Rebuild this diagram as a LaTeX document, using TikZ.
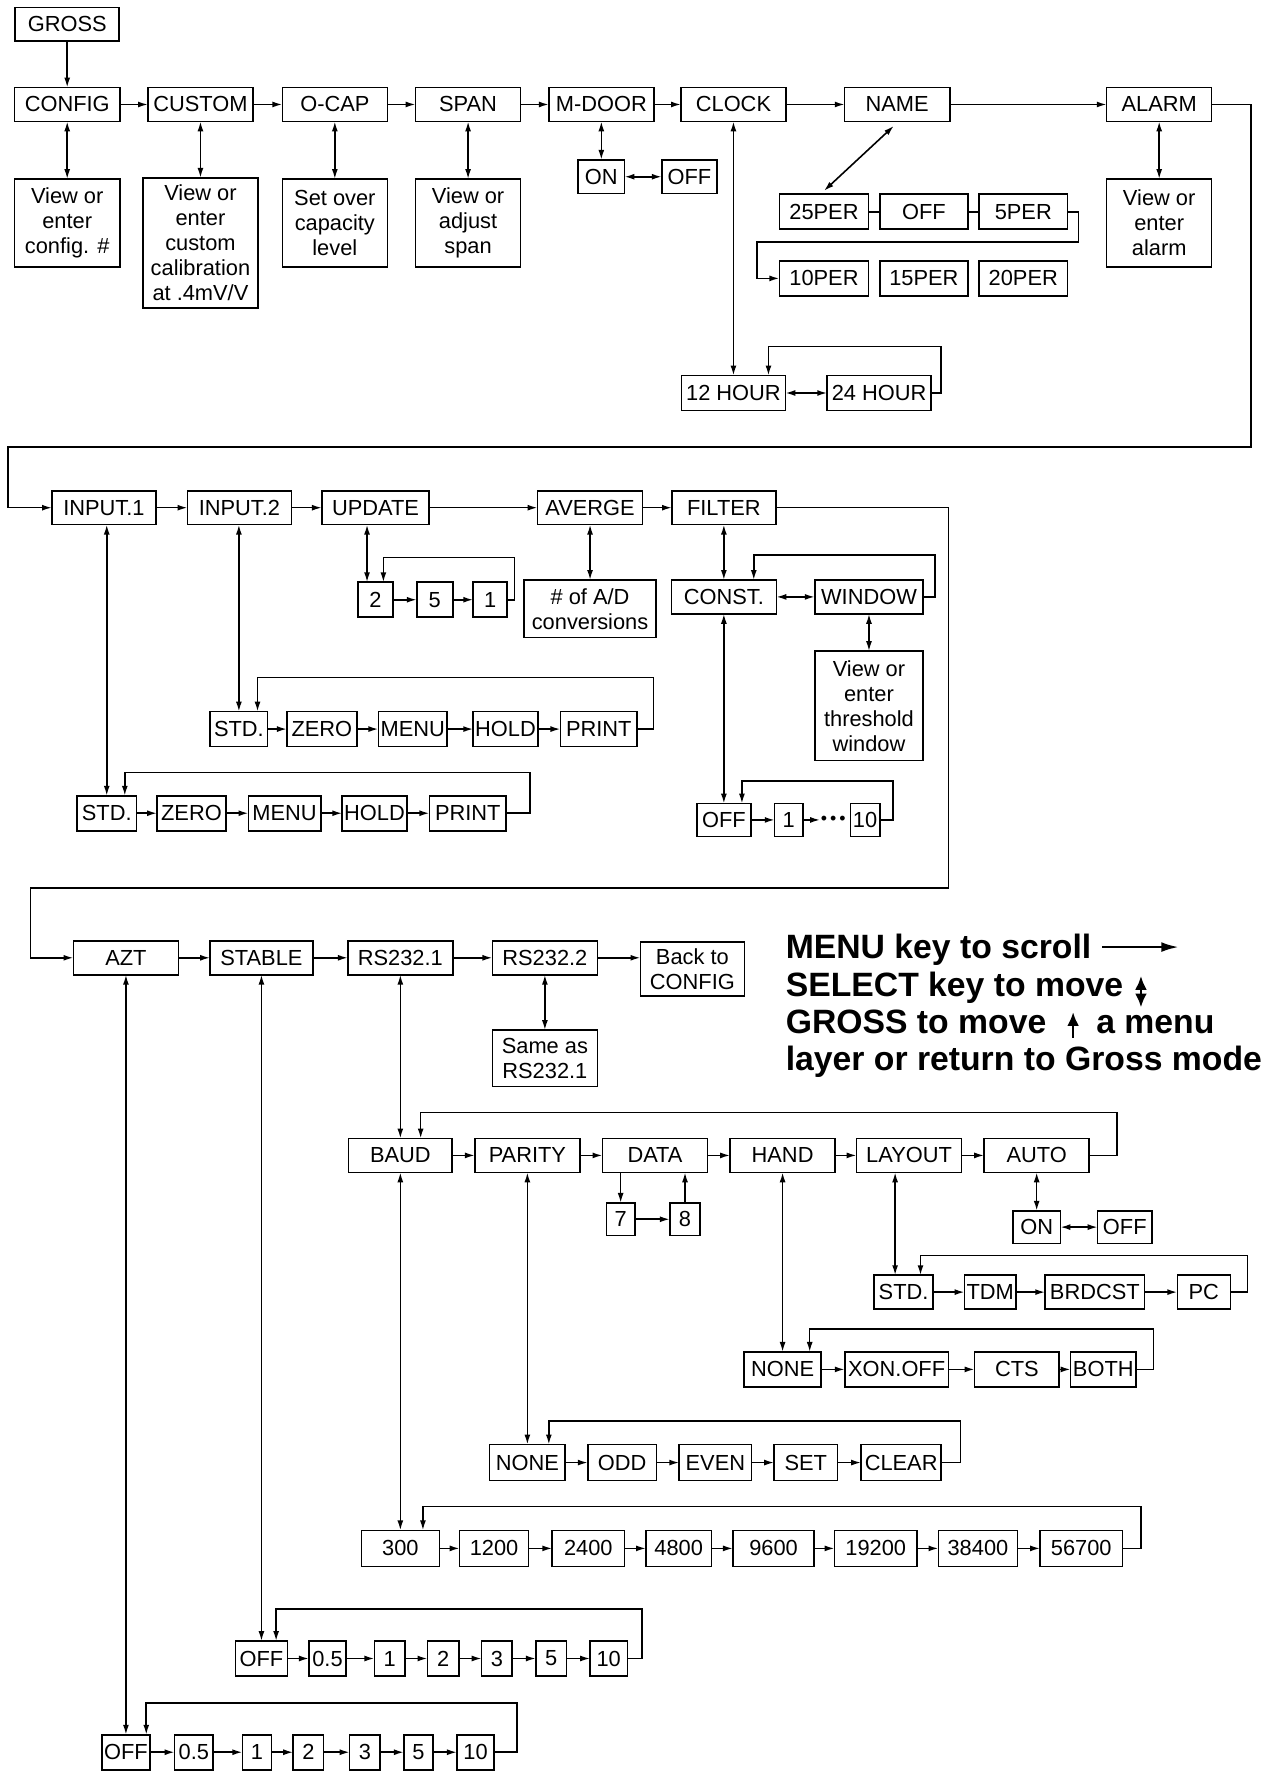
\documentclass[tikz,border=0pt]{standalone}
\usepackage{fontspec}
\setmainfont{Liberation Sans}
\usepackage{tikz}
\usetikzlibrary{
  positioning,
  arrows.meta
}

\begin{document}
\begin{tikzpicture}[x=0.02cm,y=-0.02cm,thick,>={Latex[length=5pt,width=3pt]},
	box/.style={rectangle,draw=black,align=center,outer sep=0pt,inner xsep=1pt,inner ysep=0pt,minimum height=0.6cm,font=\fontsize{11}{12.6}\selectfont},
	note/.style={anchor=base west,inner sep=0pt,font=\bfseries\fontsize{17}{19}\selectfont},
	bigarrow/.style={line width=1.4pt,-{Latex[length=9pt,width=5pt]}},
	bighead/.style={line width=1.4pt,-{Latex[length=7pt,width=6pt]}},
	bigboth/.style={line width=1.4pt,{Latex[length=7pt,width=6pt]}-{Latex[length=7pt,width=6pt]}}]
		\useasboundingbox (0,0) rectangle (1124,1568);
		\node[box,minimum width=1.84cm] (1) at (59.5,21.5) {GROSS};
		\node[box,minimum width=1.86cm] (2) at (59.5,92.5) {CONFIG};
		\node[box,minimum width=1.86cm,right=0.5cm of 2] (3) {CUSTOM};
		\node[box,minimum width=1.86cm,right=0.52cm of 3] (4) {O-CAP};
		\node[box,minimum width=1.86cm,right=0.5cm of 4] (5) {SPAN};
		\node[box,minimum width=1.86cm,right=0.5cm of 5] (6) {M-DOOR};
		\node[box,minimum width=1.86cm,right=0.48cm of 6] (7) {CLOCK};
		\node[box,minimum width=1.86cm,right=1.04cm of 7] (8) {NAME};
		\node[box,minimum width=1.86cm,right=2.78cm of 8] (9) {ALARM};
		\node[box,minimum width=1.86cm,minimum height=1.56cm,below=1.02cm of 2] (10) {View or\\enter\\config. \#};
		\node[box,minimum width=2.04cm,minimum height=2.3cm,below=1cm of 3] (11) {View or\\enter\\custom\\calibration\\at .4mV/V};
		\node[box,minimum width=1.86cm,minimum height=1.56cm,below=1.02cm of 4] (12) {Set over\\capacity\\level};
		\node[box,minimum width=1.86cm,minimum height=1.56cm,below=1.02cm of 5] (13) {View or\\adjust\\span};
		\node[box,minimum width=0.82cm,below=0.68cm of 6] (14) {ON};
		\node[box,minimum width=0.98cm,right=0.66cm of 14] (15) {OFF};
		\node[box,minimum width=1.84cm,minimum height=0.62cm,below=4.5cm of 7] (16) {12 HOUR};
		\node[box,minimum width=1.84cm,minimum height=0.62cm,right=0.74cm of 16] (17) {24 HOUR};
		\node[box,minimum width=1.58cm,minimum height=0.62cm] (18) at (729.5,187.5) {25PER};
		\node[box,minimum width=1.56cm,minimum height=0.62cm,right=0.2cm of 18] (19) {OFF};
		\node[box,minimum width=1.56cm,minimum height=0.62cm,right=0.2cm of 19] (20) {5PER};
		\node[box,minimum width=1.58cm,minimum height=0.62cm,below=0.56cm of 18] (21) {10PER};
		\node[box,minimum width=1.56cm,minimum height=0.62cm,right=0.2cm of 21] (22) {15PER};
		\node[box,minimum width=1.56cm,minimum height=0.62cm,right=0.2cm of 22] (23) {20PER};
		\node[box,minimum width=1.86cm,minimum height=1.56cm,below=1.02cm of 9] (24) {View or\\enter\\alarm};
		\node[box,minimum width=1.84cm] (25) at (92,449.5) {INPUT.1};
		\node[box,minimum width=1.84cm,right=0.56cm of 25] (26) {INPUT.2};
		\node[box,minimum width=1.9cm,right=0.54cm of 26] (27) {UPDATE};
		\node[box,minimum width=1.86cm,right=1.92cm of 27] (28) {AVERGE};
		\node[box,minimum width=1.84cm,right=0.52cm of 28] (29) {FILTER};
		\node[box,minimum width=0.62cm,minimum height=0.62cm,below=1.02cm of 27] (30) {2};
		\node[box,minimum width=0.64cm,minimum height=0.62cm,right=0.42cm of 30] (31) {5};
		\node[box,minimum width=0.6cm,minimum height=0.62cm,right=0.36cm of 31] (32) {1};
		\node[box,minimum width=2.34cm,minimum height=1.02cm,below=0.98cm of 28] (33) {\# of A/D\\conversions};
		\node[box,minimum width=1.86cm,below=0.98cm of 29] (34) {CONST.};
		\node[box,minimum width=1.92cm,right=0.68cm of 34] (35) {WINDOW};
		\node[box,minimum width=1.92cm,minimum height=1.94cm,below=0.66cm of 35] (36) {View or\\enter\\threshold\\window};
		\node[box,minimum width=1.02cm,minimum height=0.62cm] (37) at (211.5,645.5) {STD.};
		\node[box,minimum width=1.24cm,minimum height=0.62cm,right=0.34cm of 37] (38) {ZERO};
		\node[box,minimum width=1.22cm,minimum height=0.62cm,right=0.38cm of 38] (39) {MENU};
		\node[box,minimum width=1.14cm,minimum height=0.62cm,right=0.46cm of 39] (40) {HOLD};
		\node[box,minimum width=1.36cm,minimum height=0.62cm,right=0.4cm of 40] (41) {PRINT};
		\node[box,minimum width=1.06cm,minimum height=0.62cm] (42) at (94.5,720) {STD.};
		\node[box,minimum width=1.22cm,minimum height=0.62cm,right=0.36cm of 42] (43) {ZERO};
		\node[box,minimum width=1.28cm,minimum height=0.62cm,right=0.4cm of 43] (44) {MENU};
		\node[box,minimum width=1.14cm,minimum height=0.62cm,right=0.38cm of 44] (45) {HOLD};
		\node[box,minimum width=1.36cm,minimum height=0.62cm,right=0.4cm of 45] (46) {PRINT};
		\node[box,minimum width=0.96cm,minimum height=0.58cm,below=3.36cm of 34] (47) {OFF};
		\node[box,minimum width=0.5cm,minimum height=0.58cm,right=0.42cm of 47] (48) {1};
		\node[box,minimum width=0.52cm,minimum height=0.58cm,right=0.84cm of 48] (50) {10};
		\node[inner sep=0pt,left=2pt of 50,font=\fontsize{9}{9}\selectfont] (49) {\textbullet\,\textbullet\,\textbullet};
		\node[box,minimum width=1.86cm] (51) at (111.5,848) {AZT};
		\node[box,minimum width=1.82cm,right=0.56cm of 51] (52) {STABLE};
		\node[box,minimum width=1.86cm,right=0.62cm of 52] (53) {RS232.1};
		\node[box,minimum width=1.86cm,right=0.7cm of 53] (54) {RS232.2};
		\node[box,minimum width=1.84cm,minimum height=0.96cm] (55) at (613,858) {Back to\\CONFIG};
		\node[box,minimum width=1.86cm,minimum height=1cm,below=0.98cm of 54] (56) {Same as\\RS232.1};
		\node[note] (57) at (695,849) {MENU key to scroll};
		\node[note] (58) at (695,882) {SELECT key to move};
		\node[note] (59) at (695,915) {GROSS to move};
		\node[note] (60) at (970,915) {a menu};
		\node[note] (61) at (695,948) {layer or return to Gross mode};
		\node[box,minimum width=1.84cm,below=2.9cm of 53] (62) {BAUD};
		\node[box,minimum width=1.86cm,right=0.4cm of 62] (63) {PARITY};
		\node[box,minimum width=1.86cm,right=0.4cm of 63] (64) {DATA};
		\node[box,minimum width=1.86cm,right=0.4cm of 64] (65) {HAND};
		\node[box,minimum width=1.86cm,right=0.38cm of 65] (66) {LAYOUT};
		\node[box,minimum width=1.86cm,right=0.4cm of 66] (67) {AUTO};
		\node[box,minimum width=0.5cm,minimum height=0.58cm] (68) at (549.5,1079.5) {7};
		\node[box,minimum width=0.54cm,minimum height=0.58cm,right=0.62cm of 68] (69) {8};
		\node[box,minimum width=0.84cm,minimum height=0.58cm,below=0.68cm of 67] (70) {ON};
		\node[box,minimum width=0.96cm,minimum height=0.58cm,right=0.66cm of 70] (71) {OFF};
		\node[box,minimum width=1.04cm] (72) at (800,1144) {STD.};
		\node[box,minimum width=0.9cm,right=0.56cm of 72] (73) {TDM};
		\node[box,minimum width=1.76cm,right=0.52cm of 73] (74) {BRDCST};
		\node[box,minimum width=0.94cm,right=0.58cm of 74] (75) {PC};
		\node[box,minimum width=1.36cm,minimum height=0.62cm,below=3.18cm of 65] (76) {NONE};
		\node[box,minimum width=1.84cm,minimum height=0.62cm,right=0.42cm of 76] (77) {XON.OFF};
		\node[box,minimum width=1.5cm,minimum height=0.62cm,right=0.46cm of 77] (78) {CTS};
		\node[box,minimum width=1.16cm,minimum height=0.62cm,right=0.2cm of 78] (79) {BOTH};
		\node[box,minimum width=1.34cm,minimum height=0.64cm,below=4.82cm of 63] (80) {NONE};
		\node[box,minimum width=1.22cm,minimum height=0.64cm,right=0.4cm of 80] (81) {ODD};
		\node[box,minimum width=1.28cm,minimum height=0.64cm,right=0.4cm of 81] (82) {EVEN};
		\node[box,minimum width=1.12cm,minimum height=0.64cm,right=0.4cm of 82] (83) {SET};
		\node[box,minimum width=1.42cm,minimum height=0.64cm,right=0.42cm of 83] (84) {CLEAR};
		\node[box,minimum width=1.38cm,minimum height=0.64cm,below=6.34cm of 62] (85) {300};
		\node[box,minimum width=1.22cm,minimum height=0.64cm,right=0.36cm of 85] (86) {1200};
		\node[box,minimum width=1.28cm,minimum height=0.64cm,right=0.42cm of 86] (87) {2400};
		\node[box,minimum width=1.16cm,minimum height=0.64cm,right=0.38cm of 87] (88) {4800};
		\node[box,minimum width=1.44cm,minimum height=0.64cm,right=0.38cm of 88] (89) {9600};
		\node[box,minimum width=1.46cm,minimum height=0.64cm,right=0.36cm of 89] (90) {19200};
		\node[box,minimum width=1.4cm,minimum height=0.64cm,right=0.38cm of 90] (91) {38400};
		\node[box,minimum width=1.46cm,minimum height=0.64cm,right=0.4cm of 91] (92) {56700};
		\node[box,minimum width=0.92cm,minimum height=0.62cm,below=11.8cm of 52] (93) {OFF};
		\node[box,minimum width=0.66cm,minimum height=0.62cm,right=0.38cm of 93] (94) {0.5};
		\node[box,minimum width=0.54cm,minimum height=0.62cm,right=0.5cm of 94] (95) {1};
		\node[box,minimum width=0.56cm,minimum height=0.62cm,right=0.4cm of 95] (96) {2};
		\node[box,minimum width=0.54cm,minimum height=0.62cm,right=0.4cm of 96] (97) {3};
		\node[box,minimum width=0.54cm,minimum height=0.62cm,right=0.42cm of 97] (98) {5};
		\node[box,minimum width=0.66cm,minimum height=0.62cm,right=0.42cm of 98] (99) {10};
		\node[box,minimum width=0.82cm,minimum height=0.62cm,below=13.46cm of 51] (100) {OFF};
		\node[box,minimum width=0.68cm,minimum height=0.62cm,right=0.44cm of 100] (101) {0.5};
		\node[box,minimum width=0.52cm,minimum height=0.62cm,right=0.52cm of 101] (102) {1};
		\node[box,minimum width=0.54cm,minimum height=0.62cm,right=0.38cm of 102] (103) {2};
		\node[box,minimum width=0.54cm,minimum height=0.62cm,right=0.46cm of 103] (104) {3};
		\node[box,minimum width=0.52cm,minimum height=0.62cm,right=0.42cm of 104] (105) {5};
		\node[box,minimum width=0.66cm,minimum height=0.62cm,right=0.42cm of 105] (106) {10};

		\draw [->] (1) -- (2);
		\draw [->] (2) -- (3);
		\draw [->] (3) -- (4);
		\draw [->] (4) -- (5);
		\draw [->] (5) -- (6);
		\draw [->] (6) -- (7);
		\draw [->] (7) -- (8);
		\draw [->] (8) -- (9);
		\draw [<->] (2) -- (10);
		\draw [<->] (3) -- (11);
		\draw [<->] (4) -- (12);
		\draw [<->] (5) -- (13);
		\draw [<->] (9) -- (24);
		\draw [<->] (6) -- (14);
		\draw [<->] (14) -- (15);
		\draw [<->] (7) -- (16);
		\draw [<->] (16) -- (17);
		\draw [->] (17.east) -- ++(9,0) |- ([xshift=0.62cm,yshift=0.51cm]16.north) -- ([xshift=0.62cm]16.north);
		\draw [<->] ([xshift=-0.06cm,yshift=-0.08cm]8.south) -- ([yshift=0.06cm]18.north);
		\draw (18) -- (19);
		\draw (19) -- (20);
		\draw [->] (20.east) -- ++(10,0) -- ++(0,27) -| ([xshift=-0.4cm]21.west) -- (21.west);
		\draw [->] (9.east) -- ++(35,0) -- ++(0,303.5) -| ([xshift=-0.78cm]25.west) -- (25.west);
		\draw [->] (25) -- (26);
		\draw [->] (26) -- (27);
		\draw [->] (27) -- (28);
		\draw [->] (28) -- (29);
		\draw [<->] ([xshift=-0.15cm]30.north) -- ([xshift=-0.15cm]30.north |- 27.south);
		\draw [->] (30) -- (31);
		\draw [->] (31) -- (32);
		\draw [->] (32.east) -- ++(6.5,0) |- ([xshift=0.14cm,yshift=0.44cm]30.north) -- ([xshift=0.14cm]30.north);
		\draw [<->] (28) -- (33);
		\draw [<->] (29) -- (34);
		\draw [<->] (34) -- (35);
		\draw [<->] (35) -- (36);
		\draw [->] (35.east) -- ++(10.5,0) |- ([xshift=0.53cm,yshift=0.44cm]34.north) -- ([xshift=0.53cm]34.north);
		\draw [<->] (34) -- (47);
		\draw [->] (47) -- (48);
		\draw [->] (48) -- (49);
		\draw [->] (50.east) -- ++(12,0) |- ([xshift=0.32cm,yshift=0.4cm]47.north) -- ([xshift=0.32cm]47.north);
		\draw [<->] (37.north) -- (37.north |- 26.south);
		\draw [->] (37) -- (38);
		\draw [->] (38) -- (39);
		\draw [->] (39) -- (40);
		\draw [->] (40) -- (41);
		\draw [->] (41.east) -- ++(14.5,0) |- ([xshift=0.33cm,yshift=0.6cm]37.north) -- ([xshift=0.33cm]37.north);
		\draw [<->] (42.north) -- (42.north |- 25.south);
		\draw [->] (42) -- (43);
		\draw [->] (43) -- (44);
		\draw [->] (44) -- (45);
		\draw [->] (45) -- (46);
		\draw [->] (46.east) -- ++(21,0) |- ([xshift=0.32cm,yshift=0.41cm]42.north) -- ([xshift=0.32cm]42.north);
		\draw [->] (29.east) -- ++(153,0) -- ++(0,336.5) -| ([xshift=-0.76cm]51.west) -- (51.west);
		\draw [->] (51) -- (52);
		\draw [->] (52) -- (53);
		\draw [->] (53) -- (54);
		\draw [->] (54.east) -- (54.east -| 55.west);
		\draw [<->] (54) -- (56);
		\draw [bigarrow] ([xshift=0.18cm,yshift=0.21cm]57.base east) -- ++(68,0);
		\draw [bigboth] ([xshift=0.3cm,yshift=-0.2cm]58.base east) -- ++(0,-28);
		\draw [bighead] ([xshift=0.46cm,yshift=-0.08cm]59.base east) -- ++(0,-23);
		\draw [<->] (53) -- (62);
		\draw [->] (62) -- (63);
		\draw [->] (63) -- (64);
		\draw [->] (64) -- (65);
		\draw [->] (65) -- (66);
		\draw [->] (66) -- (67);
		\draw [->] (67.east) -- ++(24.5,0) |- ([xshift=0.36cm,yshift=0.46cm]62.north) -- ([xshift=0.36cm]62.north);
		\draw [->] (68.north |- 64.south) -- (68.north);
		\draw [->] (68) -- (69);
		\draw [->] (69.north) -- (69.north |- 64.south);
		\draw [<->] (67) -- (70);
		\draw [<->] (70) -- (71);
		\draw [<->] ([xshift=-0.15cm]72.north) -- ([xshift=-0.15cm]72.north |- 66.south);
		\draw [->] (72) -- (73);
		\draw [->] (73) -- (74);
		\draw [->] (74) -- (75);
		\draw [->] (75.east) -- ++(15,0) |- ([xshift=0.3cm,yshift=0.35cm]72.north) -- ([xshift=0.3cm]72.north);
		\draw [<->] (76.north) -- (76.north |- 65.south);
		\draw [->] (76) -- (77);
		\draw [->] (77) -- (78);
		\draw [->] (78) -- (79);
		\draw [->] (79.east) -- ++(15.5,0) |- ([xshift=0.48cm,yshift=0.41cm]76.north) -- ([xshift=0.48cm]76.north);
		\draw [<->] (63) -- (80);
		\draw [->] (80) -- (81);
		\draw [->] (81) -- (82);
		\draw [->] (82) -- (83);
		\draw [->] (83) -- (84);
		\draw [->] (84.east) -- ++(17,0) |- ([xshift=0.38cm,yshift=0.42cm]80.north) -- ([xshift=0.38cm]80.north);
		\draw [<->] (62) -- (85);
		\draw [->] (85) -- (86);
		\draw [->] (86) -- (87);
		\draw [->] (87) -- (88);
		\draw [->] (88) -- (89);
		\draw [->] (89) -- (90);
		\draw [->] (90) -- (91);
		\draw [->] (91) -- (92);
		\draw [->] (92.east) -- ++(16.5,0) |- ([xshift=0.4cm,yshift=0.42cm]85.north) -- ([xshift=0.4cm]85.north);
		\draw [<->] (52) -- (93);
		\draw [->] (93) -- (94);
		\draw [->] (94) -- (95);
		\draw [->] (95) -- (96);
		\draw [->] (96) -- (97);
		\draw [->] (97) -- (98);
		\draw [->] (98) -- (99);
		\draw [->] (99.east) -- ++(13,0) |- ([xshift=0.26cm,yshift=0.57cm]93.north) -- ([xshift=0.26cm]93.north);
		\draw [<->] (51) -- (100);
		\draw [->] (100) -- (101);
		\draw [->] (101) -- (102);
		\draw [->] (102) -- (103);
		\draw [->] (103) -- (104);
		\draw [->] (104) -- (105);
		\draw [->] (105) -- (106);
		\draw [->] (106.east) -- ++(20,0) |- ([xshift=0.36cm,yshift=0.56cm]100.north) -- ([xshift=0.36cm]100.north);
	\end{tikzpicture}
\end{document}
